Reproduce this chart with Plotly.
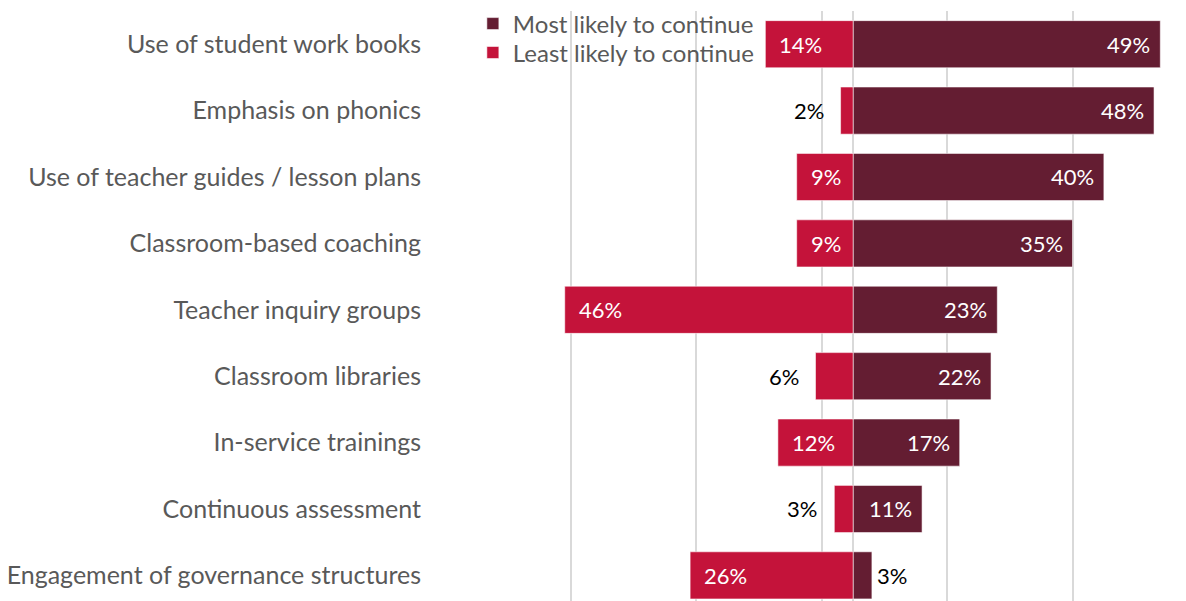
import plotly.graph_objects as go

# Practices, listed top to bottom
practices = [
    "Use of student work books",
    "Emphasis on phonics",
    "Use of teacher guides / lesson plans",
    "Classroom-based coaching",
    "Teacher inquiry groups",
    "Classroom libraries",
    "In-service trainings",
    "Continuous assessment",
    "Engagement of governance structures",
]
most_likely = [49, 48, 40, 35, 23, 22, 17, 11, 3]
least_likely = [14, 2, 9, 9, 46, 6, 12, 3, 26]

# Labels that sit outside their (short) bar
most_outside = [False, False, False, False, False, False, False, False, True]
least_outside = [False, True, False, False, False, True, False, True, False]

grid_ticks = [-65, -45, -25, -5, 15, 35, 55]

DARK = "#641D32"
RED = "#C4133A"
TEXT_GREY = "#595959"
FONT = "Lato"

fig = go.Figure()
fig.add_trace(go.Bar(
    y=practices, x=most_likely, orientation="h", name="Most likely to continue",
    marker=dict(color=DARK, line=dict(color="rgba(255,255,255,0.55)", width=1)),
    hoverinfo="skip", legend="legend",
))
fig.add_trace(go.Bar(
    y=practices, x=[-v for v in least_likely], orientation="h", name="Least likely to continue",
    marker=dict(color=RED, line=dict(color="rgba(255,255,255,0.55)", width=1)),
    hoverinfo="skip", legend="legend2",
))

annotations = []
for cat, v, out in zip(practices, most_likely, most_outside):
    annotations.append(dict(
        x=v, y=cat, xref="x", yref="y", text=f"{v}%", showarrow=False,
        xanchor="left" if out else "right", xshift=3 if out else -8,
        font=dict(family=FONT, size=22, color="black" if out else "white"),
    ))
for cat, v, out in zip(practices, least_likely, least_outside):
    annotations.append(dict(
        x=-v, y=cat, xref="x", yref="y", text=f"{v}%", showarrow=False,
        xanchor="right" if out else "left", xshift=-15 if out else 12,
        font=dict(family=FONT, size=22, color="black" if out else "white"),
    ))

legend_style = dict(
    x=0.0376, xanchor="left", yanchor="middle",
    font=dict(family=FONT, size=24, color=TEXT_GREY),
    bgcolor="rgba(0,0,0,0)",
)

fig.update_layout(
    width=1186, height=601,
    margin=dict(l=445, r=0, t=11, b=0),
    paper_bgcolor="white", plot_bgcolor="white",
    barmode="relative", bargap=0.29,
    font=dict(family=FONT, color=TEXT_GREY),
    showlegend=True,
    legend=dict(y=0.978, **legend_style),
    legend2=dict(y=0.929, **legend_style),
    annotations=annotations,
)
fig.update_xaxes(
    range=[-65.1, 53.1], tickvals=grid_ticks, showticklabels=False,
    showgrid=True, gridcolor="#D9D9D9", gridwidth=2,
    zeroline=True, zerolinecolor="#D9D9D9", zerolinewidth=2,
    showline=False, fixedrange=True,
)
fig.update_yaxes(
    range=[8.386, -0.5], showgrid=False, zeroline=False, showline=False,
    tickfont=dict(family=FONT, size=25, color=TEXT_GREY),
    ticks="", ticklabelstandoff=23, fixedrange=True,
)

fig.write_html("out.html")
